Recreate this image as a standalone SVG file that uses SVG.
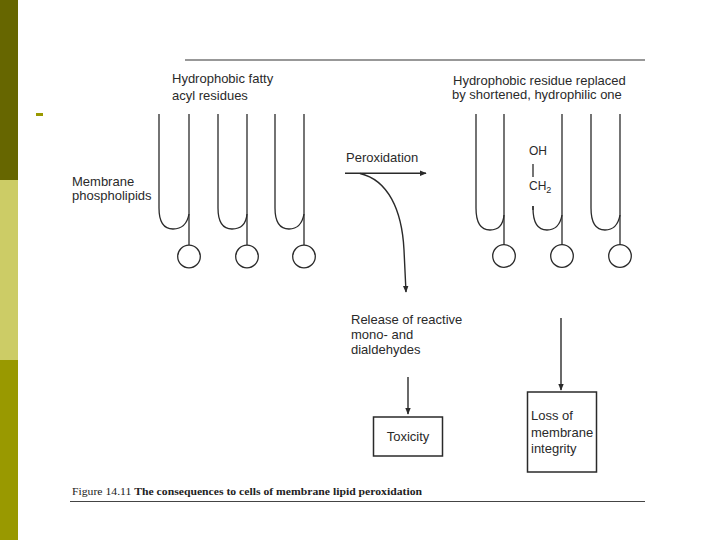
<svg xmlns="http://www.w3.org/2000/svg" width="720" height="540" viewBox="0 0 720 540">
<style>
.t{font-family:"Liberation Sans",Arial,sans-serif;font-size:13px;fill:#2a2a2a}
.s{font-family:"Liberation Sans",Arial,sans-serif;font-size:12px;fill:#2a2a2a}
.ln{fill:none;stroke:#2a2a2a;stroke-width:1.3}
.ar{fill:none;stroke:#2a2a2a;stroke-width:1.4}
.bx{fill:#fff;stroke:#2a2a2a;stroke-width:1.5}
.cap{font-family:"Liberation Serif","Times New Roman",serif;font-size:11px;fill:#222}
</style>
<defs>
<marker id="ah" viewBox="0 0 10 10" refX="9" refY="5" markerWidth="7" markerHeight="7" markerUnits="userSpaceOnUse" orient="auto">
<path d="M0,1 L10,5 L0,9 Z" fill="#2a2a2a"/>
</marker>
</defs>
<rect width="720" height="540" fill="#fff"/>
<rect x="0" y="0" width="18" height="180" fill="#666600"/>
<rect x="0" y="180" width="18" height="180" fill="#cccc66"/>
<rect x="0" y="360" width="18" height="180" fill="#999900"/>
<rect x="36" y="113" width="7" height="3" fill="#999900"/>

<line x1="185" y1="60" x2="645" y2="60" stroke="#333" stroke-width="1.2"/>
<line x1="70" y1="501.5" x2="645" y2="501.5" stroke="#444" stroke-width="1"/>

<text class="t" x="172" y="83">Hydrophobic fatty</text>
<text class="t" x="172" y="100">acyl residues</text>
<text class="t" x="72" y="186">Membrane</text>
<text class="t" x="72" y="200">phospholipids</text>
<text class="t" x="453" y="85">Hydrophobic residue replaced</text>
<text class="t" x="452" y="99">by shortened, hydrophilic one</text>

<g id="lipid-l1">
<path class="ln" d="M159,114 V208 C159,224 165,229 173,229 C181,229 187,225 189,214"/>
<path class="ln" d="M189,114 V245"/>
<circle class="ln" cx="189" cy="256.5" r="11.3"/>
</g>
<g id="lipid-l2">
<path class="ln" d="M218,114 V208 C218,224 224,229 232,229 C240,229 246,225 247,214"/>
<path class="ln" d="M247,114 V245"/>
<circle class="ln" cx="247" cy="256.5" r="11.3"/>
</g>
<g id="lipid-l3">
<path class="ln" d="M275,114 V208 C275,224 281,229 289,229 C297,229 302,225 304,214"/>
<path class="ln" d="M304,114 V245"/>
<circle class="ln" cx="304" cy="256.5" r="11.3"/>
</g>

<g id="lipid-r1">
<path class="ln" d="M476,114 V208 C476,224 482,230 490,230 C498,230 503,226 504,215"/>
<path class="ln" d="M504,114 V245"/>
<circle class="ln" cx="504" cy="256" r="11.3"/>
</g>
<g id="lipid-r2">
<path class="ln" d="M533,206 V208 C533,224 539,230 547,230 C555,230 560,226 562,215"/>
<path class="ln" d="M533,206 V210"/>
<path class="ln" d="M562,114 V245"/>
<circle class="ln" cx="562" cy="256" r="11.3"/>
<text class="s" x="529" y="155">OH</text>
<line class="ln" x1="533" y1="164" x2="533" y2="177"/>
<text class="s" x="529" y="190">CH<tspan font-size="9" dy="3">2</tspan></text>
</g>
<g id="lipid-r3">
<path class="ln" d="M591,114 V208 C591,224 597,230 605,230 C613,230 618,226 620,215"/>
<path class="ln" d="M620,114 V245"/>
<circle class="ln" cx="620" cy="256" r="11.3"/>
</g>

<g id="peroxidation">
<text class="t" x="346" y="162">Peroxidation</text>
</g>
<g id="release">
<text class="t" x="351" y="324">Release of reactive</text>
<text class="t" x="351" y="339">mono- and</text>
<text class="t" x="351" y="354">dialdehydes</text>
</g>
<g id="toxicity">
<rect class="bx" x="373.5" y="417" width="69" height="39"/>
<text class="t" x="408" y="441" text-anchor="middle">Toxicity</text>
</g>
<g id="loss">
<rect class="bx" x="527.5" y="392" width="69" height="80"/>
<text class="t" x="531" y="420">Loss of</text>
<text class="t" x="531" y="437">membrane</text>
<text class="t" x="531" y="453">integrity</text>
</g>

<g id="connectors">
<path class="ar" stroke-width="2" d="M345,173.3 H426" marker-end="url(#ah)"/>
<path class="ar" d="M360,173.5 C388,180 402,210 404,250 L406,292" marker-end="url(#ah)"/>
<path class="ar" d="M408,377 V414" marker-end="url(#ah)"/>
<path class="ar" d="M561,318 V390" marker-end="url(#ah)"/>
</g>

<text class="cap" x="72" y="495" textLength="350" lengthAdjust="spacingAndGlyphs">Figure 14.11 <tspan font-weight="bold">The consequences to cells of membrane lipid peroxidation</tspan></text>
</svg>
